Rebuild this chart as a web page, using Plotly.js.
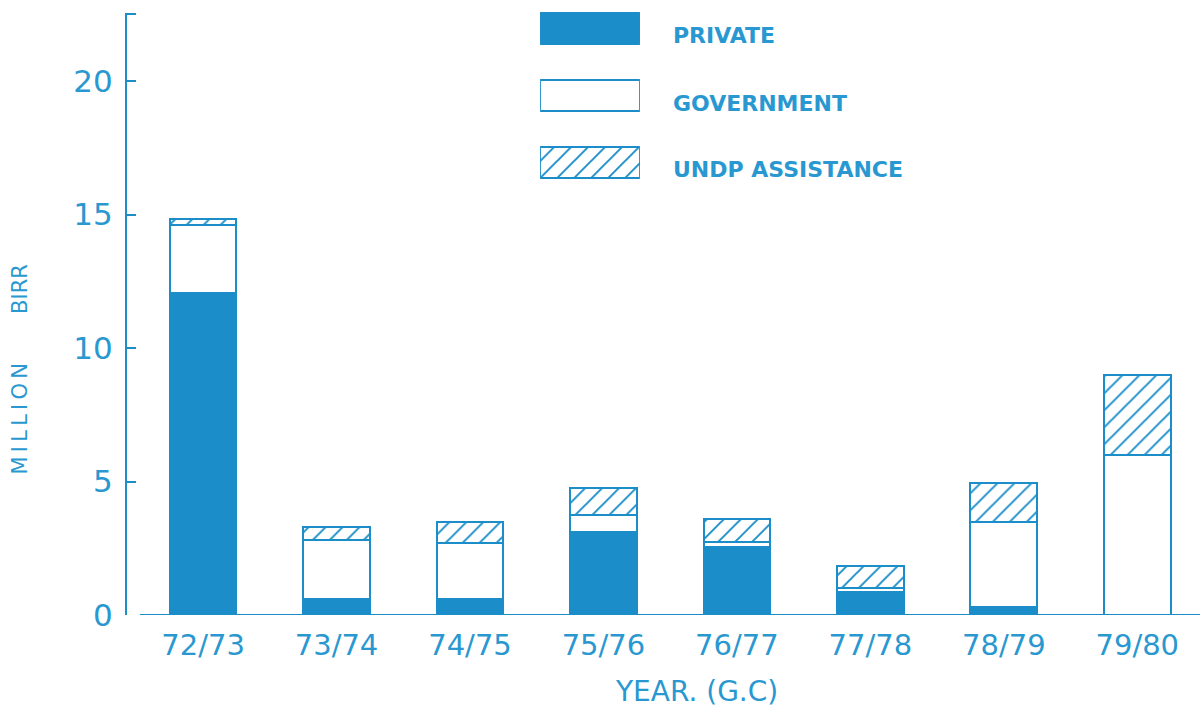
<!DOCTYPE html>
<html>
<head>
<meta charset="utf-8">
<script src="https://cdn.plot.ly/plotly-3.0.1.min.js"></script>
<style>html,body{margin:0;padding:0;background:#fff;}#chart{width:1204px;height:707px;}</style>
</head>
<body>
<div id="chart"></div>
<script>
const years = ["72/73","73/74","74/75","75/76","76/77","77/78","78/79","79/80"];
const privateVals = [12.05, 0.6, 0.6, 3.1, 2.55, 0.87, 0.3, 0];
const governmentVals = [2.55, 2.2, 2.1, 0.65, 0.2, 0.13, 3.2, 6.0];
const undpVals = [0.25, 0.5, 0.8, 1.0, 0.85, 0.83, 1.45, 3.0];
const legendLabels = ["PRIVATE", "GOVERNMENT", "UNDP ASSISTANCE"];
const yTicks = [0, 5, 10, 15, 20];

const BLUE = '#1b8dc8';
const TXT = '#2a98d0';
const FONT = 'DejaVu Sans, Liberation Sans, sans-serif';
const spaced = s => s.split('').join('\u2009');

const idx = years.map((_, i) => i);
const hatch = {shape: '/', fgcolor: BLUE, bgcolor: '#ffffff', size: 12, solidity: 0.16};
const styles = [
  {color: BLUE, line: {color: BLUE, width: 2}},
  {color: '#ffffff', line: {color: BLUE, width: 2}},
  {color: '#ffffff', line: {color: BLUE, width: 2}, pattern: hatch}
];
const series = [privateVals, governmentVals, undpVals];
const traces = series.map((vals, k) => ({
  type: 'bar', x: idx, y: vals, width: 0.5, name: legendLabels[k],
  hoverinfo: 'skip', showlegend: false, marker: styles[k]
}));
// legend swatches drawn as bars on a helper axis pair
legendLabels.forEach((lab, i) => {
  traces.push({type: 'bar', orientation: 'h', x: [1], y: [i], width: 0.47,
    xaxis: 'x2', yaxis: 'y2', hoverinfo: 'skip', showlegend: false,
    marker: styles[i]});
});

const legendY = [0.9415, 0.8317, 0.7236];
const annotations = legendLabels.map((lab, i) => ({
  xref: 'paper', yref: 'paper', x: 0.507, y: legendY[i], xanchor: 'left', yanchor: 'middle',
  text: '<b>' + lab + '</b>', showarrow: false, font: {family: FONT, size: 22, color: TXT}
}));
annotations.push({xref: 'paper', yref: 'paper', x: -0.0993, y: 0.3187, textangle: -90,
  text: spaced('MILLION'), showarrow: false,
  font: {family: FONT, size: 21, color: TXT}, xanchor: 'center', yanchor: 'middle'});
annotations.push({xref: 'paper', yref: 'paper', x: -0.0993, y: 0.5309, textangle: -90,
  text: 'BIRR', showarrow: false,
  font: {family: FONT, size: 21, color: TXT}, xanchor: 'center', yanchor: 'middle'});
annotations.push({xref: 'paper', yref: 'paper', x: 0.531, y: -0.1252,
  text: 'YEAR. (G.C)', showarrow: false, xanchor: 'center', yanchor: 'middle',
  font: {family: FONT, size: 28, color: TXT}});

const layout = {
  width: 1204, height: 707,
  margin: {l: 127, r: 4, t: 0, b: 92},
  paper_bgcolor: '#ffffff', plot_bgcolor: '#ffffff',
  barmode: 'stack', bargap: 0,
  showlegend: false,
  xaxis: {range: [-0.57, 7.47], tickvals: idx, ticktext: years, showgrid: false,
    zeroline: false, showline: false, ticks: '', ticklabelstandoff: 10,
    tickfont: {family: FONT, size: 29, color: TXT}, fixedrange: true},
  yaxis: {domain: [0, 0.97886], range: [0, 22.55], tickvals: yTicks.concat([22.5]),
    ticktext: yTicks.map(String).concat(['']), showgrid: false, zeroline: false,
    showline: true, linecolor: BLUE, linewidth: 2, ticks: 'inside', ticklen: 9,
    tickwidth: 2, tickcolor: BLUE, ticklabelstandoff: 6,
    tickfont: {family: FONT, size: 31, color: TXT}, fixedrange: true},
  xaxis2: {domain: [0.385, 0.478], range: [0, 1], visible: false, fixedrange: true},
  yaxis2: {domain: [0.70309, 0.98634], range: [2.3, -0.3], visible: false, fixedrange: true},
  shapes: [{type: 'line', xref: 'paper', yref: 'y', x0: 0.012, x1: 1, y0: 0, y1: 0,
    line: {color: BLUE, width: 2}}],
  annotations: annotations
};
Plotly.newPlot('chart', traces, layout, {staticPlot: true});
</script>
</body>
</html>
